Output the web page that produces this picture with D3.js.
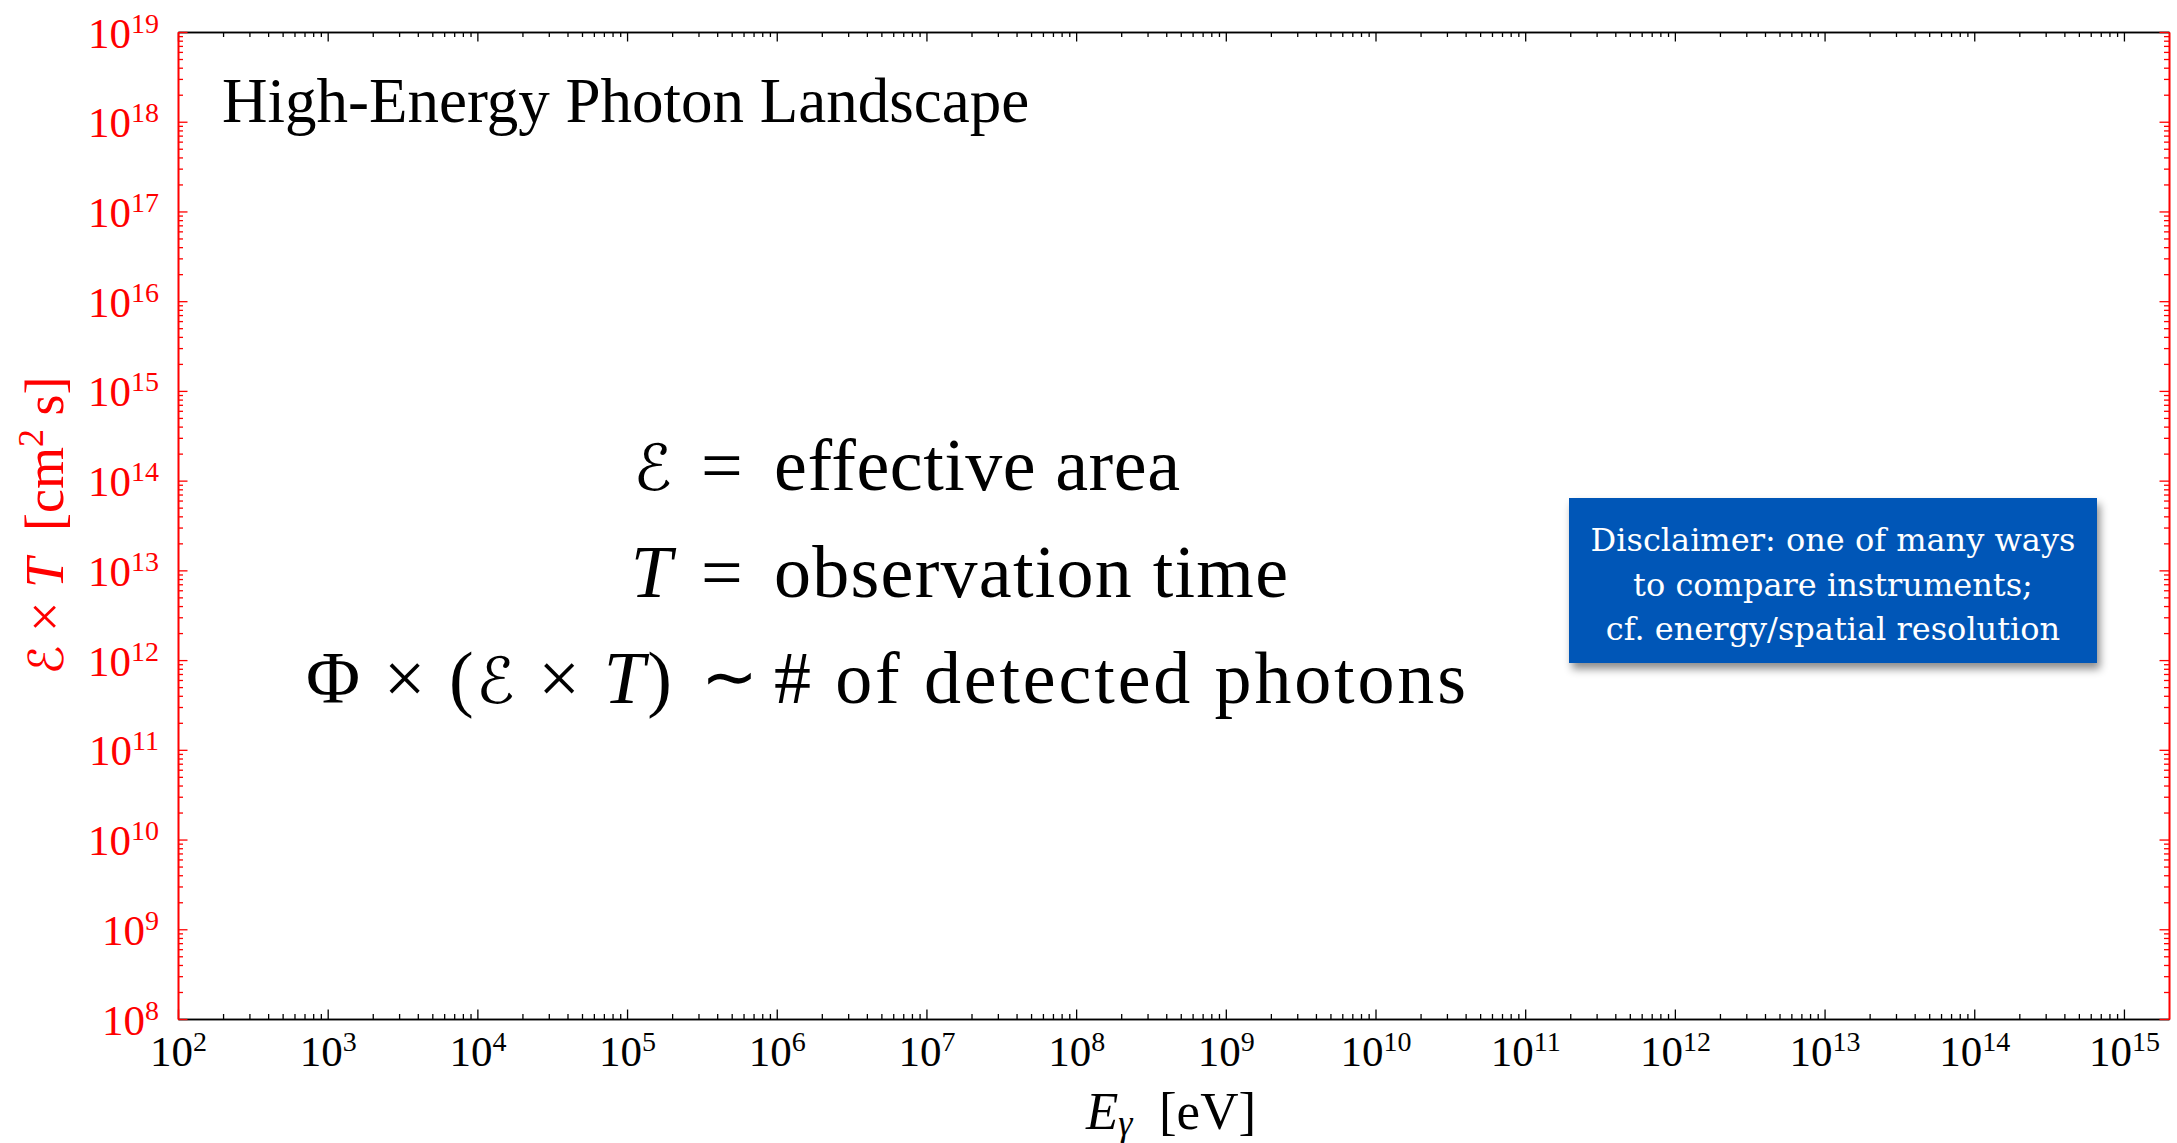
<!DOCTYPE html>
<html>
<head>
<meta charset="utf-8">
<script src="https://cdn.jsdelivr.net/npm/d3@7/dist/d3.min.js"></script>
<style>
  html, body { margin: 0; padding: 0; background: #ffffff; }
  svg { display: block; }
</style>
</head>
<body>
<svg id="chart" width="2177" height="1143"></svg>
<script>
// Axis extents (log scales)
const xDomain = [1e2, 2e15];
const yDomain = [1e8, 1e19];

// Decade labels on each axis
const xTickExponents = [2, 3, 4, 5, 6, 7, 8, 9, 10, 11, 12, 13, 14, 15];
const yTickExponents = [8, 9, 10, 11, 12, 13, 14, 15, 16, 17, 18, 19];
const minorMultipliers = [2, 3, 4, 5, 6, 7, 8, 9];

const titleText = "High-Energy Photon Landscape";

// Definitions, aligned on the relation sign: [left-hand side, relation, right-hand side]
const definitionLeft = [
  [["ℰ", "cal"]],
  [["T", "it"]],
  [["Φ × (", "rm"], ["ℰ", "cal"], [" × ", "rm"], ["T", "it"], [")", "rm"]]
];
const definitionRelation = ["=", "=", "∼"];
const definitionRight = ["effective area", "observation time", "# of detected photons"];

const disclaimerLines = [
  "Disclaimer: one of many ways",
  "to compare instruments;",
  "cf. energy/spatial resolution"
];

const W = 2177, H = 1143;
const margin = { top: 32, right: 8, bottom: 124, left: 178 };
const x0 = margin.left, x1 = W - margin.right;
const y0 = H - margin.bottom, y1 = margin.top;

const serif = "'Liberation Serif', 'Times New Roman', serif";
const RED = "#ff0000";

const svg = d3.select("#chart");

const x = d3.scaleLog().domain(xDomain).range([x0, x1]);
const y = d3.scaleLog().domain(yDomain).range([y0, y1]);

const xMajor = xTickExponents.map(e => Math.pow(10, e));
const yMajor = yTickExponents.map(e => Math.pow(10, e));
const xMinor = [];
xTickExponents.forEach(e => minorMultipliers.forEach(m => {
  const v = m * Math.pow(10, e);
  if (v < xDomain[1]) xMinor.push(v);
}));
const yMinor = [];
yTickExponents.forEach(e => minorMultipliers.forEach(m => {
  const v = m * Math.pow(10, e);
  if (v < yDomain[1]) yMinor.push(v);
}));

const MAJOR = 9.5, MINOR = 5;

function styleAxis(g, color) {
  g.select(".domain").attr("stroke", color).attr("stroke-width", 1.6);
  g.selectAll(".tick line").attr("stroke", color).attr("stroke-width", 1.3);
  g.attr("font-family", serif);
}

// power-of-ten label: "10" with a raised exponent
function powerLabel(textSel, exp, anchor, color) {
  textSel.text(null)
    .attr("text-anchor", anchor)
    .attr("fill", color)
    .attr("font-size", 43)
    .attr("dy", null);
  textSel.append("tspan").text("10");
  textSel.append("tspan").attr("font-size", 28).attr("dy", -15).text(exp);
}

// bottom axis (labels) and top axis (ticks only), pointing inward
function drawX(gen, ty, values, size, labelled) {
  const g = svg.append("g").attr("transform", `translate(0,${ty})`)
    .call(gen(x).tickValues(values).tickSize(size).tickSizeOuter(0).tickFormat(() => ""));
  styleAxis(g, "#000");
  if (labelled) {
    g.selectAll(".tick text").each(function (d) {
      const t = d3.select(this).attr("y", 47);
      powerLabel(t, Math.round(Math.log10(d)), "middle", "#000");
    });
  }
  return g;
}
drawX(d3.axisBottom, y0, xMinor, -MINOR, false);
drawX(d3.axisBottom, y0, xMajor, -MAJOR, true);
drawX(d3.axisTop, y1, xMinor, -MINOR, false);
drawX(d3.axisTop, y1, xMajor, -MAJOR, false);

function drawY(gen, tx, values, size, labelled) {
  const g = svg.append("g").attr("transform", `translate(${tx},0)`)
    .call(gen(y).tickValues(values).tickSize(size).tickSizeOuter(0).tickFormat(() => ""));
  styleAxis(g, RED);
  if (labelled) {
    g.selectAll(".tick text").each(function (d) {
      const t = d3.select(this).attr("x", -19).attr("y", 15);
      powerLabel(t, Math.round(Math.log10(d)), "end", RED);
    });
  }
  return g;
}
drawY(d3.axisLeft, x0, yMinor, -MINOR, false);
drawY(d3.axisLeft, x0, yMajor, -MAJOR, true);
drawY(d3.axisRight, x1, yMinor, -MINOR, false);
drawY(d3.axisRight, x1, yMajor, -MAJOR, false);

const calFont = "'DejaVu Sans', 'Liberation Serif', serif";

// axis titles
const xTitle = svg.append("text")
  .attr("x", 1171).attr("y", 1129)
  .attr("text-anchor", "middle")
  .attr("font-family", serif).attr("font-size", 53).attr("fill", "#000")
  .style("white-space", "pre");
xTitle.append("tspan").attr("font-style", "italic").text("E");
xTitle.append("tspan").attr("font-style", "italic").attr("font-size", 36).attr("dy", 6).text("γ");
xTitle.append("tspan").attr("dy", -6).text("  [eV]");

const yTitle = svg.append("text")
  .attr("transform", `translate(63,${(y0 + y1) / 2}) rotate(-90)`)
  .attr("text-anchor", "middle")
  .attr("font-family", serif).attr("font-size", 54).attr("fill", RED)
  .style("white-space", "pre");
yTitle.append("tspan").attr("font-style", "italic").attr("font-family", calFont).attr("font-size", 48).text("ℰ");
yTitle.append("tspan").text(" × ");
yTitle.append("tspan").attr("font-style", "italic").text("T");
yTitle.append("tspan").text("  [cm");
yTitle.append("tspan").attr("font-size", 36).attr("dy", -20).text("2");
yTitle.append("tspan").attr("dy", 20).text(" s]");

// title
svg.append("text")
  .attr("x", 222).attr("y", 122)
  .attr("font-family", serif).attr("font-size", 63).attr("fill", "#000")
  .text(titleText);

// definitions block
const leftEnd = 672, relX = 701, rightX = 774;
const baselines = [490, 597, 703];
const leftWidths = [null, null, 366];
const rightWidths = [406, 514, 692];
const defSize = 74;

definitionLeft.forEach((segs, i) => {
  const l = svg.append("text")
    .attr("x", leftEnd).attr("y", baselines[i])
    .attr("text-anchor", "end")
    .attr("font-family", serif).attr("font-size", defSize).attr("fill", "#000")
    .style("white-space", "pre");
  segs.forEach(([s, kind]) => {
    const ts = l.append("tspan").text(s);
    if (kind === "it") ts.attr("font-style", "italic");
    if (kind === "cal") ts.attr("font-style", "italic").attr("font-family", calFont).attr("font-size", defSize * 0.86);
  });
  if (leftWidths[i]) l.attr("textLength", leftWidths[i]).attr("lengthAdjust", "spacing");

  const rel = svg.append("text")
    .attr("x", relX).attr("y", baselines[i])
    .attr("font-family", serif).attr("fill", "#000")
    .text(definitionRelation[i]);
  if (definitionRelation[i] === "∼") rel.attr("font-size", 68).attr("dy", -3);
  else rel.attr("font-size", defSize);

  svg.append("text")
    .attr("x", rightX).attr("y", baselines[i])
    .attr("font-family", serif).attr("font-size", defSize).attr("fill", "#000")
    .attr("textLength", rightWidths[i]).attr("lengthAdjust", "spacing")
    .text(definitionRight[i]);
});

// disclaimer box with soft drop shadow
const defs = svg.append("defs");
const f = defs.append("filter").attr("id", "boxShadow")
  .attr("x", "-10%").attr("y", "-20%").attr("width", "130%").attr("height", "150%");
f.append("feDropShadow").attr("dx", 3).attr("dy", 6).attr("stdDeviation", 4)
  .attr("flood-color", "#000").attr("flood-opacity", 0.45);

const box = { x: 1569, y: 498, w: 528, h: 165 };
svg.append("rect")
  .attr("x", box.x).attr("y", box.y).attr("width", box.w).attr("height", box.h)
  .attr("fill", "#0057b7").attr("filter", "url(#boxShadow)");
disclaimerLines.forEach((s, i) => {
  svg.append("text")
    .attr("x", box.x + box.w / 2).attr("y", 551 + i * 44.5)
    .attr("text-anchor", "middle")
    .attr("font-family", "'DejaVu Serif', serif").attr("font-size", 32)
    .attr("fill", "#ffffff")
    .text(s);
});
</script>
</body>
</html>
